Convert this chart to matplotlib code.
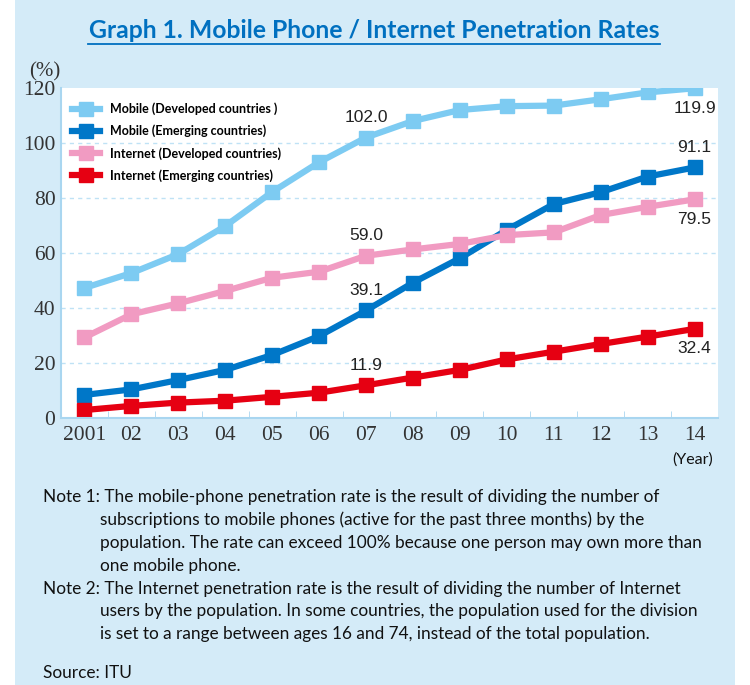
import numpy as np
import matplotlib.pyplot as plt
from matplotlib.patches import Rectangle

# Data (penetration rate, %)
years = ["2001", "02", "03", "04", "05", "06", "07", "08", "09", "10", "11", "12", "13", "14"]
mobile_dev = [47.3, 52.7, 59.6, 69.8, 82.2, 93.0, 102.0, 108.0, 112.0, 113.4, 113.6, 115.9, 118.4, 119.9]
mobile_emg = [8.4, 10.4, 13.8, 17.5, 22.9, 29.8, 39.1, 49.2, 58.1, 68.4, 77.8, 82.1, 87.8, 91.1]
inet_dev = [29.3, 37.7, 41.7, 46.2, 51.0, 53.2, 59.0, 61.3, 63.3, 66.5, 67.5, 73.8, 76.8, 79.5]
inet_emg = [2.9, 4.4, 5.6, 6.3, 7.7, 9.2, 11.9, 14.7, 17.5, 21.3, 24.1, 26.9, 29.6, 32.4]

series = [
    ("Mobile (Developed countries )", mobile_dev, "#7DCBF2"),
    ("Mobile (Emerging countries)", mobile_emg, "#0077C8"),
    ("Internet (Developed countries)", inet_dev, "#F19BC2"),
    ("Internet (Emerging countries)", inet_emg, "#E60012"),
]

# value labels: (series index, x index, above?)
labels = [(0, 6, True), (0, 13, False), (1, 6, True), (1, 13, True),
          (2, 6, True), (2, 13, False), (3, 6, True), (3, 13, False)]

W, H = 750, 685
bg = "#D4EBF8"
fig = plt.figure(figsize=(W / 100, H / 100), dpi=100)
fig.patch.set_facecolor("white")
fig.patches.append(Rectangle((15 / W, 0), 720 / W, 1, transform=fig.transFigure,
                             facecolor=bg, edgecolor="none", zorder=-10))

# plot area in pixels: left 61, right 718, top 88, bottom 418
ax = fig.add_axes([61 / W, 1 - 418 / H, (718 - 61) / W, (418 - 88) / H])
ax.set_facecolor("white")
x = np.arange(len(years))
for name, vals, col in series:
    ax.plot(x, vals, color=col, lw=4.5, marker="s", ms=10, mec=col, mfc=col,
            label=name, solid_joinstyle="miter")

for si, xi, above in labels:
    v = series[si][1][xi]
    off = 9 if above else -9
    ax.annotate(f"{v:.1f}", (xi, v), xytext=(0, off), textcoords="offset points",
                ha="center", va="bottom" if above else "top",
                fontsize=12.5, family="Liberation Sans", color="#222222")

ax.set_xlim(-0.5, len(years) - 0.5)
ax.set_ylim(0, 120)
ax.set_yticks(range(0, 121, 20))
ax.set_xticks(x)
ax.set_xticklabels(years)
ax.set_xticks(np.arange(0.5, len(years) - 1, 1), minor=True)
ax.tick_params(axis="x", which="major", length=0, pad=6)
ax.tick_params(axis="x", which="minor", length=5, direction="in", color="#A9D6F0")
ax.tick_params(axis="y", length=0, pad=4)
for lab in ax.get_xticklabels() + ax.get_yticklabels():
    lab.set_family("Liberation Serif")
    lab.set_fontsize(15.5)
    lab.set_color("#333333")
for g in range(20, 101, 20):
    ax.axhline(g, color="#BFE2F5", lw=1, ls=(0, (3, 3)), zorder=0)
for s in ["top", "right"]:
    ax.spines[s].set_visible(False)
for s in ["left", "bottom"]:
    ax.spines[s].set_color("#A9D6F0")
    ax.spines[s].set_linewidth(1.5)

leg = ax.legend(loc="upper left", bbox_to_anchor=(0.0, 0.99), frameon=False,
                handlelength=2.2, handletextpad=0.8, labelspacing=0.76,
                prop={"family": "Lato", "weight": "bold", "size": 9})

fig.text(374 / W, 1 - 31 / H, "Graph 1. Mobile Phone / Internet Penetration Rates",
         ha="center", va="center", fontsize=17.8, weight="bold", family="Lato",
         color="#0070C0")
fig.lines.append(plt.Line2D([88 / W, 660 / W], [1 - 44 / H, 1 - 44 / H],
                            transform=fig.transFigure, color="#0070C0", lw=1.3))
fig.text(45 / W, 1 - 72 / H, "(%)", ha="center", va="center", fontsize=15,
         family="Liberation Serif", color="#333333")
fig.text(713 / W, 1 - 460 / H, "(Year)", ha="right", va="center", fontsize=11.5,
         family="Lato", color="#111111")

notes = [
    (43, 497, "Note 1: The mobile-phone penetration rate is the result of dividing the number of"),
    (100, 520, "subscriptions to mobile phones (active for the past three months) by the"),
    (100, 543, "population. The rate can exceed 100% because one person may own more than"),
    (100, 566, "one mobile phone."),
    (43, 589, "Note 2: The Internet penetration rate is the result of dividing the number of Internet"),
    (100, 611, "users by the population. In some countries, the population used for the division"),
    (100, 634, "is set to a range between ages 16 and 74, instead of the total population."),
    (43, 673, "Source: ITU"),
]
for nx, ny, t in notes:
    fig.text(nx / W, 1 - ny / H, t, ha="left", va="center", fontsize=12.4,
             family="Lato", color="#111111")

fig.savefig("out.png", dpi=100, facecolor=fig.get_facecolor())
